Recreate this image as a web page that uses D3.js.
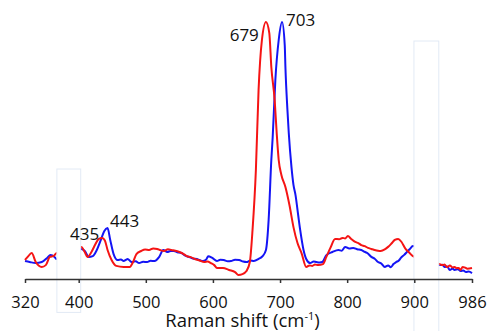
<!DOCTYPE html>
<html>
<head>
<meta charset="utf-8">
<script src="https://cdn.jsdelivr.net/npm/d3@7"></script>
<style>
  body { margin: 0; background: #fff; }
  svg { display: block; }
</style>
</head>
<body>
<script>
const width = 489;
const height = 331;

// Raman shift (cm-1) / intensity (arbitrary, 100 = tallest peak)
const redShift = [320, 324, 330, 336, 345, 351, 357, 363, 367, 387, 404, 409, 413, 419, 425, 430, 435, 439, 443, 449, 456, 467, 476, 481, 486, 493, 499, 505, 511, 517, 522, 527, 533, 538, 544, 550, 556, 561, 567, 573, 580, 587, 592, 597, 602, 606, 615, 624, 633, 638, 644, 650, 655, 659, 664, 668, 673, 679, 684, 687, 692, 695, 698, 702, 708, 714, 720, 726, 732, 739, 744, 748, 752, 757, 764, 769, 775, 782, 788, 793, 797, 801, 806, 812, 817, 821, 826, 831, 836, 841, 846, 850, 856, 861, 866, 871, 876, 881, 887, 892, 898, 917, 938, 942, 945, 949, 953, 957, 960, 963, 966, 969, 972, 976, 979, 986];
const redInt = [7.4, 8.6, 10.1, 6.6, 4.7, 5.4, 8.6, 9.0, 10.1, 11.3, 12.5, 10.5, 8.6, 10.5, 13.6, 15.6, 16.0, 15.0, 11.3, 7.4, 5.1, 4.7, 4.7, 6.6, 9.7, 10.9, 11.5, 11.3, 11.9, 11.7, 11.2, 10.9, 11.6, 11.3, 11.0, 10.5, 9.8, 8.9, 8.5, 7.8, 7.2, 6.6, 6.8, 6.2, 5.4, 4.3, 4.3, 3.5, 2.7, 1.6, 1.9, 3.1, 6.6, 19, 42.4, 73.5, 93, 100, 95.7, 82.5, 69.6, 56.8, 46.3, 40.5, 35.8, 28.8, 20.2, 14, 10.1, 4.7, 5.3, 5.1, 5.6, 5.4, 5.8, 8.6, 12.1, 15.6, 15.5, 16, 15.8, 16.7, 15.6, 14.4, 13.9, 13.2, 12.8, 12.1, 11.7, 11.3, 11.0, 10.9, 11.5, 12.5, 13.8, 15.2, 15.6, 14.4, 11.7, 10.4, 8.9, 7.4, 5.8, 5.4, 5.6, 4.7, 5.3, 4.5, 4.7, 4.2, 4.3, 3.5, 4.7, 4.4, 4.0, 4.3];

const blueShift = [320, 327, 336, 345, 353, 358, 364, 367, 387, 404, 409, 415, 421, 427, 433, 438, 443, 447, 452, 458, 463, 467, 470, 473, 477, 480, 485, 490, 496, 502, 507, 513, 520, 526, 532, 537, 542, 547, 553, 558, 564, 570, 576, 580, 585, 590, 593, 599, 606, 611, 616, 622, 627, 633, 639, 645, 650, 656, 661, 668, 674, 679, 683, 687, 689, 693, 698, 703, 707, 708, 711, 713, 717, 720, 723, 727, 730, 735, 739, 745, 750, 754, 759, 763, 769, 778, 787, 792, 797, 803, 809, 815, 821, 826, 830, 836, 841, 846, 851, 856, 861, 865, 869, 873, 877, 880, 885, 889, 893, 898, 917, 938, 942, 945, 949, 953, 957, 960, 965, 969, 973, 977, 981, 986];
const blueInt = [7.0, 6.6, 6.2, 6.6, 8.2, 9.3, 8.6, 7.8, 9.3, 11.7, 10.9, 8.6, 8.9, 11.3, 15.2, 18.6, 19.8, 15.2, 9.7, 7.4, 7.6, 7.0, 7.4, 7.8, 6.9, 6.6, 6.9, 6.2, 6.7, 6.6, 7.1, 7.0, 8.6, 11.3, 10.5, 10.9, 10.9, 10.4, 10.1, 9.2, 8.6, 8.0, 7.8, 7.4, 7.0, 7.6, 8.9, 8.2, 7.0, 7.5, 7.4, 6.9, 7.0, 7.5, 7.4, 6.8, 6.6, 7.2, 7.0, 7.8, 8.9, 11.3, 23, 46.3, 55, 77.4, 93, 100, 91, 82.5, 65.8, 56.8, 43.6, 36.6, 32.7, 24.9, 19.1, 11.3, 7.8, 6.2, 6.8, 6.6, 6.4, 6.6, 9.3, 10.5, 11.3, 11.0, 12.5, 11.9, 12.1, 11.6, 11.3, 10.6, 10.1, 8.6, 7.9, 6.6, 6.0, 4.7, 5.3, 4.6, 5.8, 6.6, 7.2, 8.2, 9.4, 10.5, 11.6, 12.8, 9.0, 5.4, 5.5, 4.7, 4.9, 3.5, 4.1, 3.5, 3.8, 3.1, 3.3, 2.7, 2.9, 2.3];

const tickValues = [320, 400, 500, 600, 700, 800, 900, 986];

// peak labels: [text, shift, intensity]
const peakLabels = [["435", 408.7, 15.2], ["443", 468.4, 20.4], ["679", 646.7, 92.6], ["703", 730.7, 98.4]];

// white boxes sitting over the traces: [shift from, shift to, intensity top, intensity bottom]
const boxes = [[367.5, 403, 42.8, -13], [899.5, 936.5, 92.6, -20.5]];

const svg = d3.select("body").append("svg")
  .attr("width", width)
  .attr("height", height);

const x = d3.scaleLinear().domain([320, 986]).range([25, 472]);
const y = d3.scaleLinear().domain([0, 100]).range([279, 22]);

const line = d3.line()
  .x(d => x(d[0]))
  .y(d => y(d[1]))
  .curve(d3.curveMonotoneX);

const blueData = d3.zip(blueShift, blueInt);
const redData = d3.zip(redShift, redInt);

svg.append("path").datum(blueData)
  .attr("d", line)
  .attr("fill", "none")
  .attr("stroke", "#1414f5")
  .attr("stroke-width", 2)
  .attr("stroke-linejoin", "round");

svg.append("path").datum(redData)
  .attr("d", line)
  .attr("fill", "none")
  .attr("stroke", "#f51414")
  .attr("stroke-width", 2)
  .attr("stroke-linejoin", "round");

svg.selectAll("rect.box").data(boxes).enter().append("rect")
  .attr("class", "box")
  .attr("x", d => x(d[0]))
  .attr("y", d => y(d[2]))
  .attr("width", d => x(d[1]) - x(d[0]))
  .attr("height", d => y(d[3]) - y(d[2]))
  .attr("fill", "#fff")
  .attr("stroke", "#e2eaf5")
  .attr("stroke-width", 1);

const axis = d3.axisBottom(x)
  .tickValues(tickValues)
  .tickFormat(d3.format("d"))
  .tickSize(4)
  .tickSizeOuter(0)
  .tickPadding(13);

const gx = svg.append("g")
  .attr("transform", `translate(0,${y(0)})`)
  .call(axis);
gx.select(".domain").attr("stroke", "#333").attr("stroke-width", 1.5);
gx.selectAll(".tick line").attr("stroke", "#333").attr("stroke-width", 1.5);
gx.selectAll(".tick text")
  .attr("fill", "#111")
  .style("font-family", "'Open Sans', sans-serif")
  .style("font-size", "16.5px");

const title = svg.append("text")
  .attr("x", 242.5)
  .attr("y", 327)
  .attr("text-anchor", "middle")
  .attr("fill", "#111")
  .style("font-family", "'Open Sans', sans-serif")
  .style("font-size", "18.5px");
title.append("tspan").text("Raman shift (cm");
title.append("tspan").attr("dy", -7).style("font-size", "11px").text("-1");
title.append("tspan").attr("dy", 7).text(")");

svg.selectAll("text.peak").data(peakLabels).enter().append("text")
  .attr("class", "peak")
  .attr("x", d => x(d[1]))
  .attr("y", d => y(d[2]))
  .attr("text-anchor", "middle")
  .attr("fill", "#111")
  .style("font-family", "'Open Sans', sans-serif")
  .style("font-size", "17px")
  .text(d => d[0]);
</script>
</body>
</html>
